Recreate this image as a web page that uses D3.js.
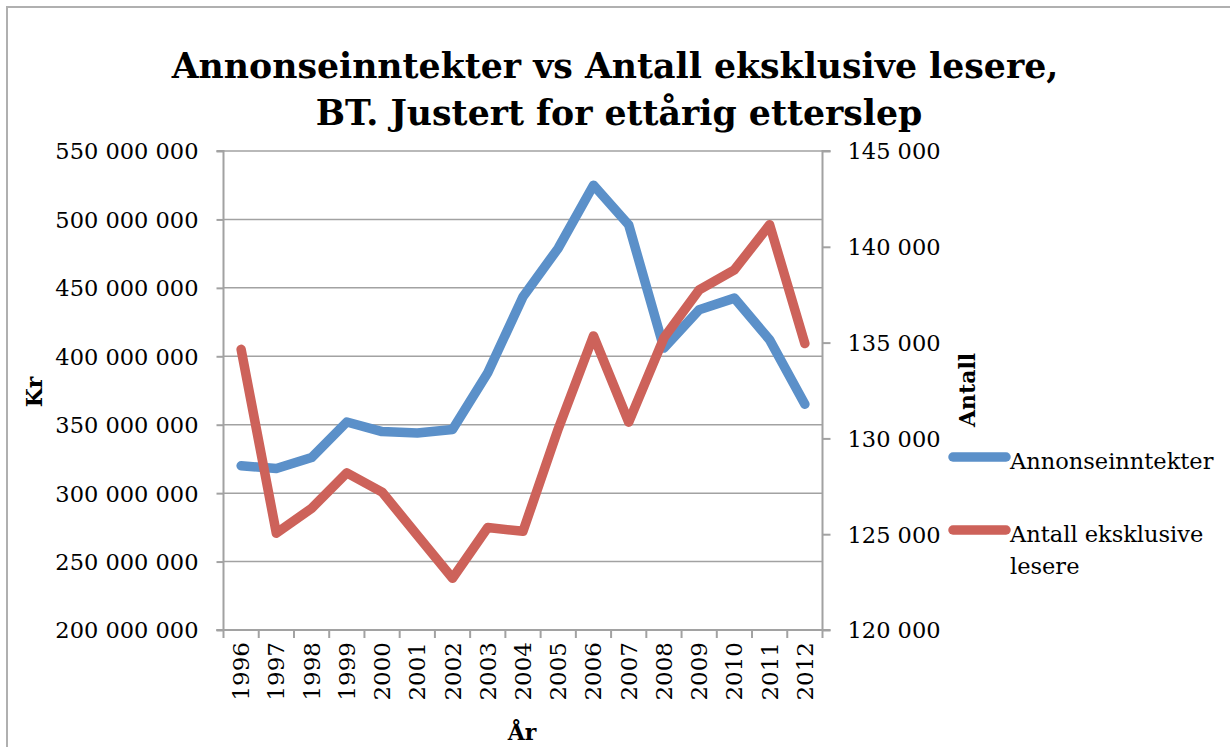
<!DOCTYPE html>
<html>
<head>
<meta charset="utf-8">
<script src="https://cdn.jsdelivr.net/npm/d3@7"></script>
<style>
  body { margin: 0; background: #fff; }
  text { font-family: "DejaVu Serif", serif; fill: #000; }
</style>
</head>
<body>
<div id="chart"></div>
<script>
// data
const years = ["1996","1997","1998","1999","2000","2001","2002","2003","2004","2005","2006","2007","2008","2009","2010","2011","2012"];
const annonse = [320e6, 318e6, 326e6, 352e6, 345e6, 344e6, 346.5e6, 388e6, 443.5e6, 479e6, 525e6, 496e6, 406e6, 434e6, 442.5e6, 412e6, 365e6];
const lesere = [134650, 125050, 126350, 128200, 127200, 124950, 122700, 125350, 125150, 130500, 135350, 130850, 135250, 137750, 138800, 141150, 134950];
const leftTicks = [200e6, 250e6, 300e6, 350e6, 400e6, 450e6, 500e6, 550e6];
const rightTicks = [120000, 125000, 130000, 135000, 140000, 145000];
const seriesNames = ["Annonseinntekter", "Antall eksklusive lesere"];

const width = 1230, height = 747;
const margin = {top: 151, left: 223.5, right: 407.5, bottom: 117};
const blue = "#5b90c9", red = "#cd625a", grey = "#a2a2a2";

const svg = d3.select("#chart").append("svg")
  .attr("width", width).attr("height", height);

// outer chart border
svg.append("path")
  .attr("d", "M7,747 V7 H1230")
  .attr("fill", "none").attr("stroke", "#b0b0b0").attr("stroke-width", 2);

const x = d3.scaleBand().domain(years).range([margin.left, width - margin.right]);
const yL = d3.scaleLinear().domain([200e6, 550e6]).range([height - margin.bottom, margin.top]);
const yR = d3.scaleLinear().domain([120000, 145000]).range([height - margin.bottom, margin.top]);

const fmt = d3.formatLocale({decimal: ",", thousands: " ", grouping: [3], currency: ["", ""]}).format(",d");

// gridlines
svg.append("g").selectAll("line")
  .data(leftTicks).enter().append("line")
  .attr("x1", margin.left).attr("x2", width - margin.right)
  .attr("y1", d => yL(d)).attr("y2", d => yL(d))
  .attr("stroke", grey).attr("stroke-width", 1.5);

// left axis
const gL = svg.append("g")
  .attr("transform", `translate(${margin.left},0)`)
  .call(d3.axisLeft(yL).tickValues(leftTicks).tickSize(7).tickPadding(18).tickFormat(fmt));
gL.selectAll("text").style("font-size", "22.5px").attr("dy", "0.35em");

// right axis
const gR = svg.append("g")
  .attr("transform", `translate(${width - margin.right},0)`)
  .call(d3.axisRight(yR).tickValues(rightTicks).tickSize(8).tickPadding(17).tickFormat(fmt));
gR.selectAll("text").style("font-size", "22.5px").attr("dy", "0.35em");

[gL, gR].forEach(g => {
  g.select(".domain").attr("stroke", grey).attr("stroke-width", 2);
  g.selectAll(".tick line").attr("stroke", grey).attr("stroke-width", 2);
});
gL.select(".domain").attr("d", `M-7,${yL(550e6)}H0V${yL(200e6)}H-7`);
gR.select(".domain").attr("d", `M8,${yR(145000)}H0V${yR(120000)}H8`);

// x axis
const base = height - margin.bottom;
svg.append("line")
  .attr("x1", margin.left - 7).attr("x2", width - margin.right + 2)
  .attr("y1", base).attr("y2", base)
  .attr("stroke", grey).attr("stroke-width", 2);
const edges = years.map(d => x(d)).concat([x.range()[1]]);
svg.append("g").selectAll("line")
  .data(edges).enter().append("line")
  .attr("x1", d => d).attr("x2", d => d)
  .attr("y1", base).attr("y2", base + 8)
  .attr("stroke", grey).attr("stroke-width", 2);
svg.append("g").selectAll("text")
  .data(years).enter().append("text")
  .attr("transform", d => `translate(${x(d) + x.bandwidth() / 2 + 8},${base + 12}) rotate(-90)`)
  .attr("text-anchor", "end")
  .style("font-size", "23px")
  .text(d => d);

// lines
const lineL = d3.line().x((d, i) => x(years[i]) + x.bandwidth() / 2).y(d => yL(d));
const lineR = d3.line().x((d, i) => x(years[i]) + x.bandwidth() / 2).y(d => yR(d));

svg.append("path").datum(annonse)
  .attr("d", lineL).attr("fill", "none")
  .attr("stroke", blue).attr("stroke-width", 9.5)
  .attr("stroke-linejoin", "round").attr("stroke-linecap", "round");
svg.append("path").datum(lesere)
  .attr("d", lineR).attr("fill", "none")
  .attr("stroke", red).attr("stroke-width", 9.5)
  .attr("stroke-linejoin", "round").attr("stroke-linecap", "round");

// title
const title = svg.append("text")
  .attr("text-anchor", "middle")
  .style("font-weight", "bold")
  .style("font-size", "34.7px");
title.append("tspan").attr("x", 615).attr("y", 78).text("Annonseinntekter vs Antall eksklusive lesere,");
title.append("tspan").attr("x", 619).attr("y", 125).text("BT. Justert for ettårig etterslep");

// axis titles
svg.append("text")
  .attr("transform", "translate(42,392) rotate(-90)")
  .attr("text-anchor", "middle")
  .style("font-weight", "bold").style("font-size", "22px")
  .text("Kr");
svg.append("text")
  .attr("transform", "translate(975,390) rotate(-90)")
  .attr("text-anchor", "middle")
  .style("font-weight", "bold").style("font-size", "22px")
  .text("Antall");
svg.append("text")
  .attr("x", 522).attr("y", 740)
  .attr("text-anchor", "middle")
  .style("font-weight", "bold").style("font-size", "22px")
  .text("År");

// legend
const legend = svg.append("g");
const legY = [457, 530];
const legColors = [blue, red];
legend.selectAll("line")
  .data(seriesNames).enter().append("line")
  .attr("x1", 953).attr("x2", 1006)
  .attr("y1", (d, i) => legY[i]).attr("y2", (d, i) => legY[i])
  .attr("stroke", (d, i) => legColors[i]).attr("stroke-width", 9.5)
  .attr("stroke-linecap", "round");
legend.append("text")
  .attr("x", 1010).attr("y", 469)
  .style("font-size", "22.5px")
  .text(seriesNames[0]);
const leg2 = legend.append("text").style("font-size", "22.5px");
leg2.append("tspan").attr("x", 1010).attr("y", 542).text("Antall eksklusive");
leg2.append("tspan").attr("x", 1010).attr("y", 574).text("lesere");
</script>
</body>
</html>
